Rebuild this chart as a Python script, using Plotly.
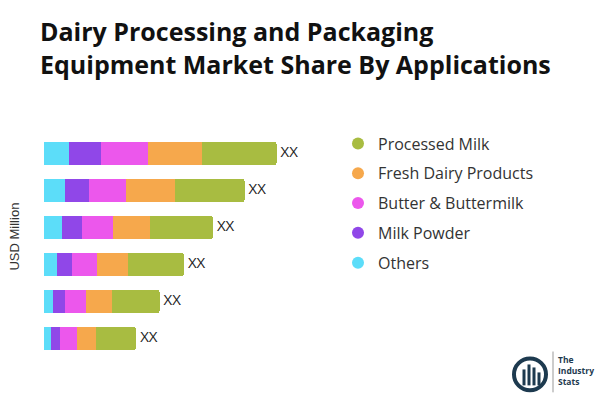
import plotly.graph_objects as go

rows = [0, 1, 2, 3, 4, 5]
others = [24.6, 21.0, 17.6, 13.3, 9.3, 6.6]
milk_powder = [32.4, 24.3, 20.4, 14.7, 12.0, 9.7]
butter = [46.6, 37.0, 30.6, 25.3, 20.7, 17.0]
fresh_dairy = [54.4, 48.7, 37.4, 31.0, 26.3, 19.0]
processed_milk = [74.6, 69.6, 63.0, 55.7, 47.3, 40.0]
bar_labels = ["XX"] * 6

series = [
    ("Others", others, "#5CDDF9"),
    ("Milk Powder", milk_powder, "#9047E8"),
    ("Butter & Buttermilk", butter, "#EC57EC"),
    ("Fresh Dairy Products", fresh_dairy, "#F6A84C"),
    ("Processed Milk", processed_milk, "#A8BC41"),
]

fig = go.Figure()
for name, vals, col in series:
    fig.add_trace(go.Bar(
        y=rows, x=vals, orientation="h", name=name,
        marker=dict(color=col, line=dict(width=0)),
        showlegend=False, hoverinfo="x+name",
    ))

totals = [sum(v) for v in zip(*[s[1] for s in series])]
fig.add_trace(go.Scatter(
    y=rows, x=totals, mode="text", text=[" " + t for t in bar_labels],
    textposition="middle right",
    textfont=dict(family="Open Sans", size=15, color="#222222"),
    showlegend=False, hoverinfo="skip", cliponaxis=False,
))

# legend entries (circles), Processed Milk first
for i, (name, vals, col) in enumerate(reversed(series)):
    fig.add_trace(go.Scatter(
        x=[None], y=[None], mode="markers", name=name,
        marker=dict(color=col, size=12, symbol="circle"),
        legendgroup="g%d" % i, showlegend=True,
    ))

L, T, W, H = 44, 134.5, 300, 223  # plot area in pixels


def px(x):
    return (x - L) / W


def py(y):
    return (T + H - y) / H


fig.update_layout(
    width=600, height=400,
    margin=dict(l=L, r=600 - L - W, t=T, b=400 - T - H, autoexpand=False),
    paper_bgcolor="white", plot_bgcolor="white",
    barmode="stack", bargap=0.373, barcornerradius=3,
    title=dict(
        text="Dairy Processing and Packaging<br>Equipment Market Share By Applications",
        x=40 / 600, xanchor="left", y=1 - 41 / 400, yanchor="top",
        font=dict(family="Open Sans", size=25, color="#111111", weight="bold"),
    ),
    xaxis=dict(range=[0, 300], visible=False, fixedrange=True),
    yaxis=dict(range=[5.5, -0.5], showticklabels=False, showgrid=False,
               zeroline=False, showline=False, ticks="", automargin=False,
               fixedrange=True),
    legend=dict(
        x=px(338), xanchor="left", y=py(126), yanchor="top",
        font=dict(family="Open Sans", size=16, color="#333333"),
        tracegroupgap=6, itemwidth=30, bgcolor="rgba(0,0,0,0)",
    ),
    showlegend=True,
)

# y-axis title
fig.add_annotation(
    xref="paper", yref="paper", x=px(15), y=py(236.5),
    xanchor="center", yanchor="middle", textangle=-90,
    text="USD Million", showarrow=False,
    font=dict(family="Liberation Sans, Arial", size=13, color="#333333"),
)

# logo approximation
fig.add_shape(type="circle", xref="paper", yref="paper",
              x0=px(514), x1=px(546), y0=py(391), y1=py(359),
              line=dict(color="#1d3a4f", width=4), fillcolor="white")
for bx, top in [(524, 370), (529, 365), (534, 368), (539, 373)]:
    fig.add_shape(type="rect", xref="paper", yref="paper",
                  x0=px(bx - 1.5), x1=px(bx + 1.5), y0=py(386), y1=py(top),
                  line=dict(width=0), fillcolor="#1d3a4f")
fig.add_shape(type="line", xref="paper", yref="paper",
              x0=px(553), x1=px(553), y0=py(393), y1=py(352),
              line=dict(color="#999999", width=1))
fig.add_annotation(
    xref="paper", yref="paper", xanchor="left", yanchor="middle",
    x=px(556), y=py(371),
    text="<b>The<br>Industry<br>Stats</b>", showarrow=False, align="left",
    font=dict(family="Open Sans", size=8.5, color="#1d3a4f"),
)

fig.write_html("out.html", config={"displayModeBar": False},
               post_script="document.body.style.margin='0';")
